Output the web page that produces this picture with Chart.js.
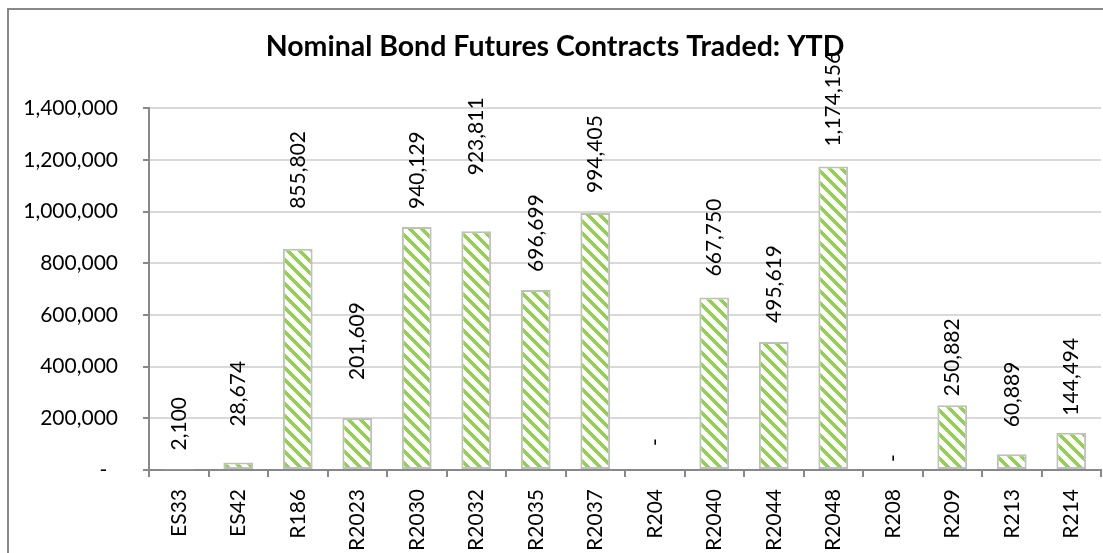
<!DOCTYPE html>
<html>
<head>
<meta charset="utf-8">
<script src="https://cdn.jsdelivr.net/npm/chart.js@4/dist/chart.umd.min.js"></script>
<style>
  html, body { margin: 0; padding: 0; background: #fff; overflow: hidden; }
  .frame {
    position: absolute; left: 7px; top: 8px;
    width: 1110px; height: 560px;
    border: 2px solid #888;
    overflow: hidden;
  }
</style>
</head>
<body>
<div class="frame">
  <canvas id="myChart" width="1110" height="560"></canvas>
</div>
<script>
// Chart data
const categories = ['ES33', 'ES42', 'R186', 'R2023', 'R2030', 'R2032', 'R2035', 'R2037',
  'R204', 'R2040', 'R2044', 'R2048', 'R208', 'R209', 'R213', 'R214'];
const contracts = [2100, 28674, 855802, 201609, 940129, 923811, 696699, 994405,
  0, 667750, 495619, 1174156, 0, 250882, 60889, 144494];
const yTicks = [0, 200000, 400000, 600000, 800000, 1000000, 1200000, 1400000];

// how far each value label sits above its bar (px), as placed in the original
const labelLift = [19, 36, 40, 38, 18, 56, 18, 20, 24, 21, 19, 20, 8, 9, 27, 17];

const fmt = v => v === 0 ? '-' : v.toLocaleString('en-US');
const fontFamily = 'Lato, "Open Sans", sans-serif';

// diagonal stripe fill like Excel's wide downward diagonal
const tileSize = 12;
const tile = document.createElement('canvas');
tile.width = tileSize; tile.height = tileSize;
const tctx = tile.getContext('2d');
tctx.fillStyle = '#ffffff';
tctx.fillRect(0, 0, tileSize, tileSize);
tctx.fillStyle = '#92d050';
for (let y = 0; y < tileSize; y++) {
  for (let x = 0; x < tileSize; x++) {
    if (((x - y) % tileSize + tileSize) % tileSize < 5) tctx.fillRect(x, y, 1, 1);
  }
}
const ctx = document.getElementById('myChart');
const stripes = ctx.getContext('2d').createPattern(tile, 'repeat');

// rotated value labels above each bar
const valueLabels = {
  id: 'valueLabels',
  afterDatasetsDraw(chart) {
    const c = chart.ctx;
    const meta = chart.getDatasetMeta(0);
    c.save();
    c.font = '21px ' + fontFamily;
    c.fillStyle = '#000';
    c.textAlign = 'left';
    c.textBaseline = 'middle';
    meta.data.forEach((bar, i) => {
      c.save();
      c.translate(bar.x, bar.y - labelLift[i]);
      c.rotate(-Math.PI / 2);
      c.fillText(fmt(contracts[i]), 0, 0);
      c.restore();
    });
    c.restore();
  }
};

const data = {
  labels: categories,
  datasets: [{
    label: 'Contracts traded',
    data: contracts,
    backgroundColor: stripes,
    borderColor: '#bfbfbf',
    borderWidth: c => (contracts[c.dataIndex] === 0 ? 0 : 2),
    borderSkipped: false,
    categoryPercentage: 1,
    barPercentage: 0.5
  }]
};

const options = {
  responsive: false,
  animation: false,
  layout: { padding: { left: 0, right: 18, top: 0, bottom: 0 } },
  plugins: {
    legend: { display: false },
    tooltip: { enabled: false },
    title: {
      display: true,
      text: 'Nominal Bond Futures Contracts Traded: YTD',
      color: '#000',
      font: { family: fontFamily, size: 28.5, weight: 'bold' },
      padding: { top: 20, bottom: 44 }
    }
  },
  scales: {
    x: {
      afterFit: s => { s.height = 100; },
      grid: {
        offset: true,
        drawOnChartArea: false,
        tickLength: 7,
        tickColor: '#888',
        lineWidth: 2
      },
      border: { color: '#888', width: 2 },
      ticks: {
        autoSkip: false,
        maxRotation: 90,
        minRotation: 90,
        padding: 12,
        color: '#000',
        font: { family: fontFamily, size: 21 }
      }
    },
    y: {
      min: 0,
      max: 1400000,
      afterFit: s => { s.width = 140; },
      afterBuildTicks: s => { s.ticks = yTicks.map(v => ({ value: v })); },
      grid: {
        color: '#d9d9d9',
        lineWidth: 2,
        tickLength: 6,
        tickColor: '#888'
      },
      border: { color: '#888', width: 2 },
      ticks: {
        padding: 25,
        color: '#000',
        font: { family: fontFamily, size: 21 },
        callback: v => (v === 0 ? '-  ' : fmt(v))
      }
    }
  }
};

// Create the chart
new Chart(ctx, {
  type: 'bar',
  data: data,
  options: options,
  plugins: [valueLabels]
});
</script>
</body>
</html>
